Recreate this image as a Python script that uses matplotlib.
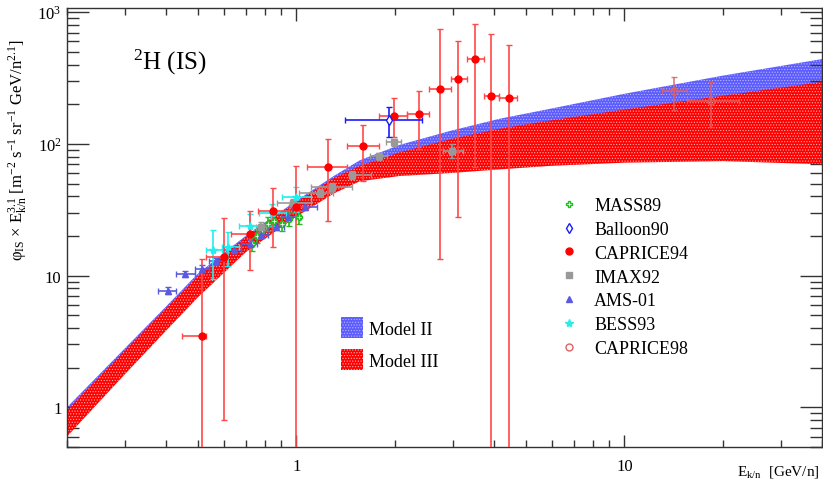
import numpy as np
import matplotlib
matplotlib.use('Agg')
import matplotlib.pyplot as plt
from matplotlib.lines import Line2D
from matplotlib.ticker import FixedLocator, NullFormatter

plt.rcParams['font.family'] = ['Liberation Serif', 'DejaVu Serif']
plt.rcParams['mathtext.fontset'] = 'custom'
plt.rcParams['mathtext.rm'] = 'Liberation Serif'
plt.rcParams['mathtext.it'] = 'Liberation Serif:italic'
plt.rcParams['mathtext.bf'] = 'Liberation Serif:bold'
plt.rcParams['hatch.linewidth'] = 0.5

# ---------------- model bands ----------------
band_E = [0.2, 0.3, 0.4, 0.5, 0.7, 1.0, 1.3, 1.56, 2.06, 2.93, 4.16, 5.9, 10, 20, 40]
m2_lo = [0.76, 2.1, 4.5, 8.0, 15.5, 29, 45, 58, 72, 90, 108, 124, 150, 190, 240]
m2_hi = [1.0, 2.8, 5.8, 10.3, 20, 37, 57, 75, 98, 125, 155, 184, 240, 330, 440]
m3_lo = [0.60, 1.78, 3.8, 6.8, 15.0, 28, 42, 52, 57, 60, 64, 68, 72, 74, 70]
m3_hi = [0.95, 2.7, 5.6, 9.8, 19.5, 36, 55, 68, 86, 108, 130, 150, 182, 232, 295]

# ---------------- data ----------------
mass_E = [0.733, 0.757, 0.786, 0.818, 0.857, 0.905, 0.952, 1.016]
mass_v = [17.5, 20.0, 22.0, 24.8, 26.2, 24.8, 27.0, 27.8]
mass_rel = [0.12, 0.12, 0.12, 0.12, 0.12, 0.12, 0.12, 0.12]

b90_E = [1.91]
b90_Elo = [1.41]
b90_Ehi = [2.42]
b90_v = [152]
b90_vlo = [112]
b90_vhi = [190]

c94_E = [0.517, 0.60, 0.72, 0.85, 1.0, 1.25, 1.6, 1.98, 2.36, 2.75, 3.12, 3.51, 3.93, 4.46]
c94_Elo = [0.449, 0.532, 0.634, 0.766, 0.952, 1.08, 1.43, 1.79, 2.17, 2.54, 2.97, 3.32, 3.72, 4.16]
c94_Ehi = [0.532, 0.612, 0.771, 0.952, 1.08, 1.43, 1.79, 2.17, 2.54, 2.97, 3.32, 3.72, 4.16, 4.72]
c94_v = [3.45, 13.9, 20.8, 31, 33, 67, 96.5, 163, 169, 260, 312, 440, 230, 222]
c94_vlo = [0.01, 0.8, 11, 16.6, 0.01, 26, 52, 113, 92, 13.4, 28, 67, 0.01, 0.01]
c94_vhi = [13.4, 27.5, 31, 46.4, 68, 108, 139, 222, 251, 740, 600, 810, 680, 560]

imax_E = [0.78, 0.98, 1.18, 1.28, 1.48, 1.79, 1.99, 2.99]
imax_Elo = [0.755, 0.875, 1.02, 1.11, 1.45, 1.68, 1.88, 2.79]
imax_Ehi = [0.81, 1.11, 1.29, 1.48, 1.69, 1.89, 2.09, 3.21]
imax_v = [23.5, 35.6, 42.5, 47, 58, 81, 103, 88]
imax_vlo = [21.5, 33, 39.5, 43.5, 54, 76, 97, 78]
imax_vhi = [25.5, 38, 45.5, 50.5, 62, 86, 109, 100]

ams_E = [0.407, 0.459, 0.517, 0.57, 0.647, 0.72, 0.78, 0.87, 0.945, 1.065]
ams_Elo = [0.38, 0.43, 0.49, 0.54, 0.60, 0.68, 0.75, 0.82, 0.90, 0.97]
ams_Ehi = [0.43, 0.49, 0.54, 0.60, 0.68, 0.76, 0.82, 0.92, 1.00, 1.16]
ams_v = [7.7, 10.3, 11.3, 12.8, 15.7, 17.5, 20.4, 23.5, 28.0, 33.3]
ams_rel = [0.06, 0.06, 0.06, 0.06, 0.06, 0.06, 0.06, 0.06, 0.06, 0.06]

bess_E = [0.558, 0.62, 0.724, 0.845, 1.0]
bess_Elo = [0.532, 0.595, 0.67, 0.77, 0.906]
bess_Ehi = [0.595, 0.67, 0.782, 0.932, 1.11]
bess_v = [15.7, 16.6, 23.9, 30, 39.7]
bess_vlo = [9.5, 11.9, 19.7, 24, 30.6]
bess_vhi = [22, 21.5, 29.5, 35, 47]

c98_E = [14.2, 18.4]
c98_Elo = [13.0, 15.5]
c98_Ehi = [15.5, 22.3]
c98_v = [252, 211]
c98_vlo = [181, 134]
c98_vhi = [322, 295]

xticks = [1, 10]
xticklabels = ['1', '10']
yticks = [1, 10, 100, 1000]
yticklabels = ['1', '10', '10$^{2}$', '10$^{3}$']

# ---------------- figure ----------------
fig = plt.figure(figsize=(8.23, 4.85), dpi=100)
ax = fig.add_axes([67/823, 1-448/485, (822-67)/823, (448-9)/485])
ax.set_xscale('log')
ax.set_yscale('log')
ax.set_xlim(0.2, 40)
ax.set_ylim(0.5, 1075)

h2 = ax.fill_between(band_E, m2_lo, m2_hi, facecolor='#5c5cff', edgecolor='#b8b8ff',
                     hatch='......', linewidth=0, zorder=1)
h3 = ax.fill_between(band_E, m3_lo, m3_hi, facecolor='#ff0000', edgecolor='#ffb0b0',
                     hatch='......', linewidth=0, zorder=2)


def eb(E, v, Elo, Ehi, vlo, vhi, color, marker, ms, mfc, ecolor, alpha=1.0, z=3):
    E = np.array(E); v = np.array(v)
    xerr = [E - np.array(Elo), np.array(Ehi) - E]
    yerr = [v - np.array(vlo), np.array(vhi) - v]
    ax.errorbar(E, v, xerr=xerr, yerr=yerr, fmt=marker, color=color, ms=ms, mfc=mfc,
                mec=color, ecolor=ecolor, elinewidth=1.2, capsize=2, capthick=1.0,
                zorder=z, alpha=alpha)


mE = np.array(mass_E); mv = np.array(mass_v); mr = np.array(mass_rel)
eb(mE, mv, mE * 0.985, mE * 1.015, mv * (1 - mr), mv * (1 + mr), '#1fbf1f', 'P', 5, 'white', '#1fbf1f')
aE = np.array(ams_E); av = np.array(ams_v); ar = np.array(ams_rel)
eb(aE, av, ams_Elo, ams_Ehi, av * (1 - ar), av * (1 + ar), '#5a5ae0', '^', 4.5, '#5a5ae0', '#5a5ae0')
eb(imax_E, imax_v, imax_Elo, imax_Ehi, imax_vlo, imax_vhi, '#999999', 's', 5, '#999999', '#999999')
eb(bess_E, bess_v, bess_Elo, bess_Ehi, bess_vlo, bess_vhi, '#22eeee', '*', 6, '#22eeee', '#22eeee')
eb(c94_E, c94_v, c94_Elo, c94_Ehi, c94_vlo, c94_vhi, '#ff0000', 'o', 5, '#ff0000', '#ff4848')
eb(b90_E, b90_v, b90_Elo, b90_Ehi, b90_vlo, b90_vhi, '#1a1aff', 'd', 5, 'white', '#1a1aff')
eb(c98_E, c98_v, c98_Elo, c98_Ehi, c98_vlo, c98_vhi, '#e06060', 'o', 5, 'none', '#e06060', alpha=0.85)

# ---------------- axes styling ----------------
for s in ax.spines.values():
    s.set_color('#333333')
    s.set_linewidth(1.0)
ax.xaxis.set_major_locator(FixedLocator(xticks))
ax.set_xticklabels(xticklabels)
ax.yaxis.set_major_locator(FixedLocator(yticks))
ax.set_yticklabels(yticklabels)
xminor = [m * 10.0 ** k for k in (-1, 0, 1) for m in range(2, 10)]
yminor = [m * 10.0 ** k for k in (-1, 0, 1, 2) for m in range(2, 10)]
ax.xaxis.set_minor_locator(FixedLocator(xminor))
ax.yaxis.set_minor_locator(FixedLocator(yminor))
ax.xaxis.set_minor_formatter(NullFormatter())
ax.yaxis.set_minor_formatter(NullFormatter())
ax.tick_params(which='both', direction='in', top=True, right=True, color='#333333',
               labelsize=12, width=1.0)
ax.tick_params(axis='x', which='major', length=9, pad=8)
ax.tick_params(axis='x', which='minor', length=5)
ax.tick_params(axis='y', which='major', length=16, pad=4)
ax.tick_params(axis='y', which='minor', length=8.5)

fig.text(18/823, 1 - 150/485,
         'φ$_{\\mathrm{IS}}$ × E$_{\\mathrm{k/n}}^{\\mathrm{3.1}}$ [m$^{\\mathrm{-2}}$ s$^{\\mathrm{-1}}$ '
         'sr$^{\\mathrm{-1}}$ GeV/n$^{\\mathrm{2.1}}$]',
         rotation=90, ha='center', va='center', fontsize=12)
fig.text(820/823, 1 - 472/485, 'E$_{\\mathrm{k/n}}$  [GeV/n]', ha='right', va='center', fontsize=11)
fig.text(133/823, 1 - 62/485, '$^{\\mathrm{2}}$H (IS)', ha='left', va='center', fontsize=18)

leg1 = ax.legend([h2, h3], ['Model II', 'Model III'], loc='upper left',
                 bbox_to_anchor=((341 - 67) / 755, (448 - 318) / 439), frameon=False,
                 fontsize=13, handlelength=1.22, handleheight=1.44, labelspacing=0.6,
                 handletextpad=0.35, borderaxespad=0, borderpad=0)
ax.add_artist(leg1)

handles = [
    Line2D([], [], ls='none', marker='P', ms=5, mfc='white', mec='#1fbf1f', color='#1fbf1f'),
    Line2D([], [], ls='none', marker='d', ms=5, mfc='white', mec='#1a1aff', color='#1a1aff'),
    Line2D([], [], ls='none', marker='o', ms=5, mfc='#ff0000', mec='#ff0000'),
    Line2D([], [], ls='none', marker='s', ms=4.5, mfc='#999999', mec='#999999'),
    Line2D([], [], ls='none', marker='^', ms=4.5, mfc='#5a5ae0', mec='#5a5ae0'),
    Line2D([], [], ls='none', marker='*', ms=6, mfc='#22eeee', mec='#22eeee'),
    Line2D([], [], ls='none', marker='o', ms=5, mfc='none', mec='#e06060'),
]
labels = ['MASS89', 'Balloon90', 'CAPRICE94', 'IMAX92', 'AMS-01', 'BESS93', 'CAPRICE98']
ax.legend(handles, labels, loc='upper left',
          bbox_to_anchor=((560 - 67) / 755, (448 - 198) / 439), frameon=False,
          fontsize=13, handlelength=1.0, handletextpad=0.9, labelspacing=0.38,
          borderaxespad=0, borderpad=0)

fig.savefig('out.png', dpi=100)
